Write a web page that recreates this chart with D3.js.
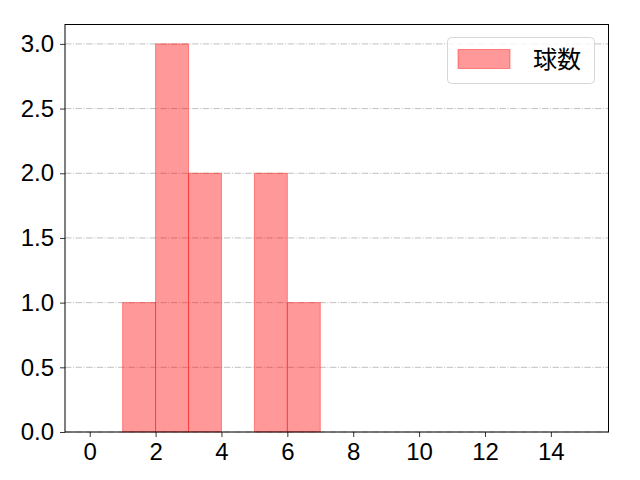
<!DOCTYPE html>
<html>
<head>
<meta charset="utf-8">
<script src="https://cdn.jsdelivr.net/npm/d3@7"></script>
<style>
  body { margin: 0; background: #fff; }
  svg { display: block; }
</style>
</head>
<body>
<script>
// histogram bins (start, end) and counts
const binStarts = [1, 2, 3, 4, 5, 6];
const binEnds = [2, 3, 4, 5, 6, 7];
const counts = [1, 3, 2, 0, 2, 1];
const xTicks = [0, 2, 4, 6, 8, 10, 12, 14];
const yTicks = [0, 0.5, 1.0, 1.5, 2.0, 2.5, 3.0];
const seriesName = '球数';

const width = 640, height = 480;
const margin = {top: 24.5, right: 31.5, bottom: 48, left: 65};
const plotW = width - margin.left - margin.right;
const plotH = height - margin.top - margin.bottom;
const tickFont = '"Liberation Sans", Arial, sans-serif';
const font = '"Noto Sans CJK JP", "Noto Sans", sans-serif';

const svg = d3.select('body').append('svg')
  .attr('width', width)
  .attr('height', height);

const g = svg.append('g')
  .attr('transform', `translate(${margin.left},${margin.top})`);

const x = d3.scaleLinear().domain([-0.75, 15.75]).range([0, plotW]);
const y = d3.scaleLinear().domain([0, 3.15]).range([plotH, 0]);

// grid lines
g.append('g')
  .selectAll('line')
  .data(yTicks)
  .enter().append('line')
  .attr('x1', 0)
  .attr('x2', plotW)
  .attr('y1', d => y(d))
  .attr('y2', d => y(d))
  .attr('stroke', '#b0b0b0')
  .attr('stroke-width', 0.8)
  .attr('stroke-dasharray', '6.4,1.6,1,1.6');

// bars
const bins = binStarts.map((s, i) => ({x0: s, x1: binEnds[i], n: counts[i]}));
g.append('g')
  .selectAll('rect')
  .data(bins.filter(d => d.n > 0))
  .enter().append('rect')
  .attr('x', d => x(d.x0))
  .attr('y', d => y(d.n))
  .attr('width', d => x(d.x1) - x(d.x0))
  .attr('height', d => y(0) - y(d.n))
  .attr('fill', 'rgba(255,0,0,0.4)')
  .attr('stroke', 'rgba(255,0,0,0.4)')
  .attr('stroke-width', 1);

// axes
const xAxis = g.append('g')
  .attr('transform', `translate(0,${plotH})`)
  .call(d3.axisBottom(x).tickValues(xTicks).tickSize(5).tickPadding(6).tickFormat(d3.format('d')));
const yAxis = g.append('g')
  .call(d3.axisLeft(y).tickValues(yTicks).tickSize(5).tickPadding(6).tickFormat(d3.format('.1f')));

[xAxis, yAxis].forEach(a => {
  a.select('.domain').remove();
  a.selectAll('text').style('font-family', tickFont).style('font-size', '24px').attr('fill', '#000');
  a.selectAll('line').attr('stroke', '#000').attr('stroke-width', 0.8);
});

// frame
g.append('rect')
  .attr('x', 0).attr('y', 0)
  .attr('width', plotW).attr('height', plotH)
  .attr('fill', 'none')
  .attr('stroke', '#000')
  .attr('stroke-width', 1);

// legend
const legend = svg.append('g');
legend.append('rect')
  .attr('x', 447.5).attr('y', 37.5)
  .attr('width', 147).attr('height', 46)
  .attr('rx', 4)
  .attr('fill', 'rgba(255,255,255,0.8)')
  .attr('stroke', '#d6d6d6')
  .attr('stroke-width', 1);
legend.append('rect')
  .attr('x', 458).attr('y', 49.5)
  .attr('width', 52).attr('height', 19)
  .attr('fill', 'rgba(255,0,0,0.4)')
  .attr('stroke', 'rgba(255,0,0,0.4)');
legend.append('text')
  .attr('x', 533).attr('y', 68)
  .style('font-family', font)
  .style('font-size', '24px')
  .text(seriesName);
</script>
</body>
</html>
